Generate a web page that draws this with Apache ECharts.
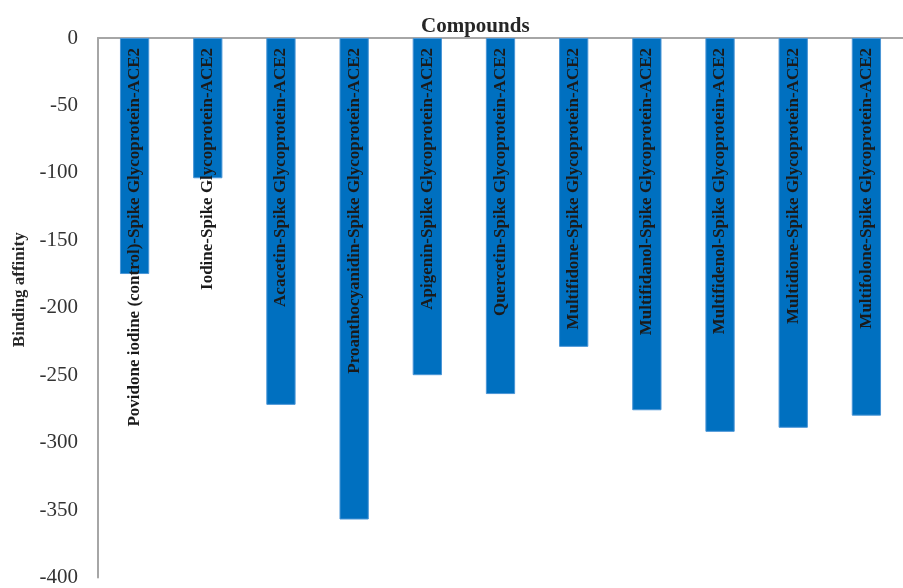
<!DOCTYPE html>
<html>
<head>
<meta charset="utf-8">
<script src="https://cdn.jsdelivr.net/npm/echarts@6/dist/echarts.min.js"></script>
<style>
html, body { margin: 0; padding: 0; background: #ffffff; }
#chart { width: 903px; height: 588px; }
</style>
</head>
<body>
<div id="chart"></div>
<script>
const categories = [
  'Povidone iodine (control)-Spike Glycoprotein-ACE2',
  'Iodine-Spike Glycoprotein-ACE2',
  'Acacetin-Spike Glycoprotein-ACE2',
  'Proanthocyanidin-Spike Glycoprotein-ACE2',
  'Apigenin-Spike Glycoprotein-ACE2',
  'Quercetin-Spike Glycoprotein-ACE2',
  'Multifidone-Spike Glycoprotein-ACE2',
  'Multifidanol-Spike Glycoprotein-ACE2',
  'Multifidenol-Spike Glycoprotein-ACE2',
  'Multidione-Spike Glycoprotein-ACE2',
  'Multifolone-Spike Glycoprotein-ACE2'
];
const bindingAffinity = [-175, -104, -272, -357, -250, -264, -229, -276, -292, -289, -280];
const yMin = -400;
const yMax = 0;
const yInterval = 50;
const xTitle = 'Compounds';
const yTitle = 'Binding affinity';

const chart = echarts.init(document.getElementById('chart'), null, { renderer: 'canvas' });
chart.setOption({
  animation: false,
  backgroundColor: '#ffffff',
  title: {
    text: xTitle,
    left: 416,
    top: 11,
    textStyle: { fontFamily: 'Liberation Serif', fontWeight: 'bold', fontSize: 21, color: '#262626' }
  },
  grid: { left: 98, top: 38, right: -14, bottom: 9, containLabel: false },
  xAxis: {
    type: 'category',
    position: 'top',
    data: categories,
    axisLine: { show: true, lineStyle: { color: '#A6A6A6', width: 2 } },
    axisTick: { show: false },
    axisLabel: { show: false },
    splitLine: { show: false }
  },
  yAxis: {
    type: 'value',
    min: yMin,
    max: yMax,
    interval: yInterval,
    name: yTitle,
    nameLocation: 'middle',
    nameGap: 69,
    nameRotate: 90,
    nameTextStyle: { fontFamily: 'Liberation Serif', fontWeight: 'bold', fontSize: 17, color: '#262626', padding: [0, 0, 0, 36] },
    axisLine: { show: true, lineStyle: { color: '#A6A6A6', width: 2 } },
    axisTick: { show: false },
    splitLine: { show: false },
    axisLabel: { fontFamily: 'Liberation Serif', fontSize: 21, color: '#333333', margin: 20 }
  },
  series: [{
    type: 'bar',
    data: bindingAffinity,
    barWidth: '40%',
    itemStyle: { color: '#0070C0', borderColor: '#4A95D6', borderWidth: 1 },
    label: {
      show: true,
      position: 'insideTop',
      distance: 10,
      rotate: 90,
      align: 'right',
      verticalAlign: 'middle',
      formatter: p => p.name,
      fontFamily: 'Liberation Serif',
      fontWeight: 'bold',
      fontSize: 17,
      color: '#1a1a1a'
    }
  }]
});
</script>
</body>
</html>
